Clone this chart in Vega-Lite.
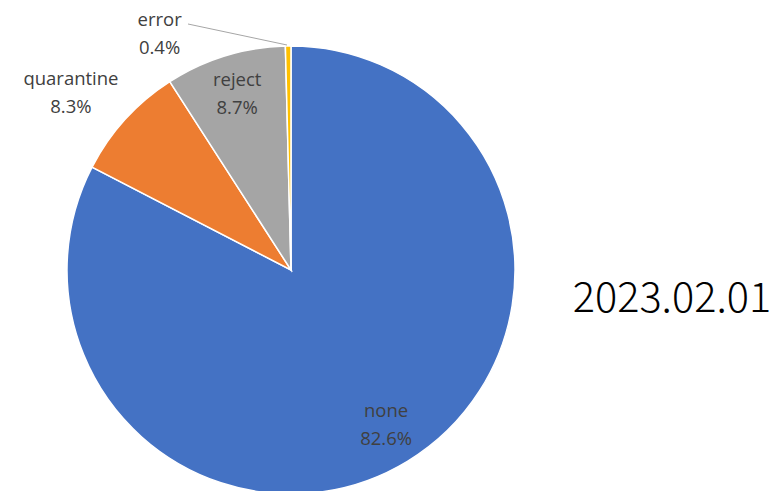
{
  "$schema": "https://vega.github.io/schema/vega-lite/v6.json",
  "width": 582,
  "height": 442,
  "autosize": {"type": "none"},
  "padding": {"left": 0, "top": 49, "right": 194, "bottom": 0},
  "background": "white",
  "config": {"view": {"stroke": null}, "text": {"font": "Open Sans"}},
  "layer": [
    {
      "data": {
        "values": [
          {"category": "none", "value": 82.6},
          {"category": "quarantine", "value": 8.3},
          {"category": "reject", "value": 8.7},
          {"category": "error", "value": 0.4}
        ]
      },
      "transform": [
        {"window": [{"op": "row_number", "as": "rank"}]},
        {"calculate": "datum.category + '\\n' + format(datum.value, '.1f') + '%'", "as": "label"}
      ],
      "encoding": {
        "theta": {"field": "value", "type": "quantitative", "stack": true},
        "order": {"field": "rank", "type": "quantitative"}
      },
      "layer": [
        {
          "mark": {"type": "arc", "outerRadius": 224, "stroke": "white", "strokeWidth": 1.5},
          "encoding": {
            "color": {
              "field": "category",
              "type": "nominal",
              "sort": null,
              "scale": {"domain": ["none", "quarantine", "reject", "error"], "range": ["#4472C4", "#ED7D31", "#A5A5A5", "#FFC000"]},
              "legend": null
            }
          }
        },
        {
          "transform": [{"calculate": "datum.category == 'none' || datum.category == 'reject' ? datum.label : ''", "as": "lab"}],
          "mark": {"type": "text", "radius": 183, "dy": -15, "fontSize": 18.5, "color": "#404040", "lineBreak": "\n", "lineHeight": 28, "align": "center", "baseline": "middle"},
          "encoding": {"text": {"field": "lab"}}
        },
        {
          "transform": [{"calculate": "datum.category == 'quarantine' ? datum.label : ''", "as": "lab"}],
          "mark": {"type": "text", "radius": 284, "dx": -10, "fontSize": 18.5, "color": "#404040", "lineBreak": "\n", "lineHeight": 28, "align": "center", "baseline": "middle"},
          "encoding": {"text": {"field": "lab"}}
        },
        {
          "transform": [{"calculate": "datum.category == 'error' ? datum.label : ''", "as": "lab"}],
          "mark": {"type": "text", "radius": 272, "dx": -128, "dy": 22, "fontSize": 18.5, "color": "#404040", "lineBreak": "\n", "lineHeight": 28, "align": "center", "baseline": "middle"},
          "encoding": {"text": {"field": "lab"}}
        }
      ]
    },
    {
      "data": {"values": [{"note": "leader"}]},
      "mark": {"type": "rule", "color": "#A6A6A6", "strokeWidth": 1},
      "encoding": {
        "x": {"value": 188},
        "y": {"value": -25},
        "x2": {"value": 287},
        "y2": {"value": -4}
      }
    },
    {
      "data": {"values": [{"date": "2023.02.01"}]},
      "mark": {"type": "text", "fontSize": 41.5, "fontWeight": 300, "color": "#000000", "align": "center", "baseline": "middle", "font": "Noto Sans CJK JP"},
      "encoding": {
        "text": {"field": "date"},
        "x": {"value": 672},
        "y": {"value": 251}
      }
    }
  ]
}
